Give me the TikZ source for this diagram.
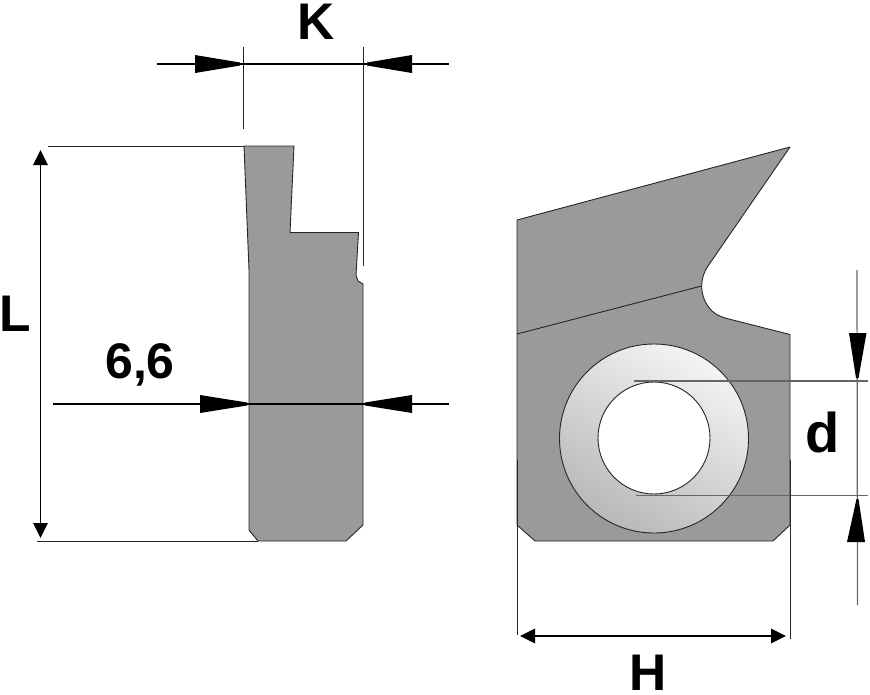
\documentclass[tikz,border=0pt]{standalone}
\usepackage{fontspec}
\setmainfont{Liberation Sans}
\usetikzlibrary{arrows.meta,shadings}
\definecolor{steel}{HTML}{9A9A9A}
\tikzset{
  x=1pt,y=-1pt,
  body/.style={fill=steel,draw=black!85,line width=0.9pt,line join=round},
  edge/.style={draw=black!85,line width=0.9pt},
  dim/.style={draw=black,line width=1.1pt},
  extn/.style={draw=black!85,line width=1pt},
  greyline/.style={draw=black!60,line width=1.2pt},
  smallhead/.style={{Triangle[length=15pt,width=14.5pt]}-{Triangle[length=15pt,width=14.5pt]}},
  lbl/.style={font=\bfseries\fontsize{51.5}{52}\selectfont,inner sep=0pt,text=black},
  lblsmall/.style={font=\bfseries\fontsize{50}{50}\selectfont,inner sep=0pt,text=black},
  lblbig/.style={font=\bfseries\fontsize{56}{56}\selectfont,inner sep=0pt,text=black}
}
\begin{document}
\begin{tikzpicture}
\useasboundingbox (0,0) rectangle (870,694);
% left profile
\draw[body] (244,146) -- (294,146) -- (290,232.5) -- (358.5,232.5) -- (356,275) -- (358,281) -- (363,284)
  -- (363,525) -- (346,541) -- (258,541) -- (249,530) -- (249,270) -- cycle;
% right body
\draw[body] (517,220) -- (790,147) -- (708,266) .. controls (700,277) and (698,297) .. (712,311)
  .. controls (716,315) and (720,316) .. (725,318) -- (790,334.5) -- (790,525) -- (773,541) -- (535,541) -- (517,525) -- cycle;
\coordinate (notchL) at (517,334);
\coordinate (notchR) at (701.5,286);
\draw[edge] (notchL) -- (notchR);
% ring
\shade[shading=bilinear interpolation,lower left=black!32,upper right=white,lower right=black!20,upper left=black!12]
  (654,438.5) circle[radius=94.5];
\draw[edge] (654,438.5) circle[radius=94.5];
\draw[edge,fill=white] (654,438) circle[radius=56];
% dimension K
\coordinate (kL) at (157,64); \coordinate (kR) at (449,64);
\coordinate (kA) at (243.5,47); \coordinate (kA2) at (243.5,129);
\coordinate (kB) at (363.5,47); \coordinate (kB2) at (363.5,266);
\draw[extn] (kA) -- (kA2);
\draw[extn] (kB) -- (kB2);
\draw[dim] (kL) -- (kR);
\path[fill=black] (195,55) -- (240,62.5) -- (240,65.5) -- (195,73) -- cycle;
\path[fill=black] (412,55) -- (367,62.5) -- (367,65.5) -- (412,73) -- cycle;
% dimension 6,6
\coordinate (wL) at (53,404); \coordinate (wR) at (449,404);
\draw[dim] (wL) -- (wR);
\path[fill=black] (200,395) -- (247,402.5) -- (247,405.5) -- (200,413) -- cycle;
\path[fill=black] (412,395) -- (365,402.5) -- (365,405.5) -- (412,413) -- cycle;
% dimension L
\coordinate (lTop) at (40.5,150); \coordinate (lBot) at (40.5,538);
\coordinate (lExtA) at (48,146); \coordinate (lExtB) at (244,146);
\coordinate (lExtC) at (37,541); \coordinate (lExtD) at (258,541);
\draw[extn] (lExtA) -- (lExtB);
\draw[extn] (lExtC) -- (lExtD);
\draw[dim,smallhead] (lTop) -- (lBot);
% dimension d
\coordinate (dA) at (634,381); \coordinate (dA2) at (868,381);
\coordinate (dB) at (636,495.5); \coordinate (dB2) at (868,495.5);
\draw[greyline] (dA) -- (dA2);
\draw[greyline] (dB) -- (dB2);
\coordinate (dTop) at (857,270); \coordinate (dBot) at (857.5,605);
\draw[greyline] (dTop) -- (dBot);
\path[fill=black] (849,333) -- (866.5,333) -- (858.5,378) -- (856,378) -- cycle;
\path[fill=black] (847,542) -- (865,542) -- (858.5,499) -- (856.5,499) -- cycle;
% dimension H
\coordinate (hA) at (517,460); \coordinate (hA2) at (517,635);
\coordinate (hB) at (790,460); \coordinate (hB2) at (790,639);
\draw[extn] (hA) -- (hA2);
\draw[extn] (hB) -- (hB2);
\coordinate (hL) at (520,636); \coordinate (hR) at (786,636);
\draw[dim,smallhead] (hL) -- (hR);
% labels
\node[lbl] (labK) at (316,22) {K};
\node[lbl] (labL) at (15.5,313.5) {L};
\node[lblsmall] (lab66) at (140,365) {6,6};
\node[lblbig] (labd) at (822.5,432.5) {d};
\node[lbl] (labH) at (648,673) {H};
\end{tikzpicture}
\end{document}
